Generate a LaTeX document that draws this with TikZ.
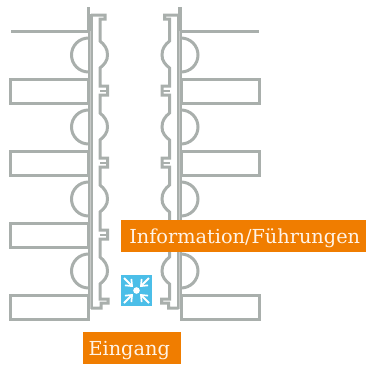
\documentclass[tikz,border=0pt]{standalone}
\usepackage{fontspec}
\setmainfont{DejaVu Serif}
\usetikzlibrary{arrows.meta}
\definecolor{wall}{HTML}{A9AFAC}
\definecolor{lab}{HTML}{F07D00}
\definecolor{ico}{HTML}{4BBEE8}
\definecolor{labtxt}{HTML}{FFF3E6}
\tikzset{
  wallline/.style={draw=wall,line width=3pt,line join=miter},
  sign/.style={fill=lab,text=labtxt,inner sep=0pt,text height=15.5pt,text depth=0pt,font=\fontsize{19.3}{19.3}\selectfont},
  icoarrow/.style={draw=white,line width=1.8pt,-{Straight Barb[length=5.5pt,width=9pt,line width=1.7pt]}}
}
\newcommand{\halfside}{%
  \draw[draw=wall,line width=2.4pt] (88.3,7) -- (88.3,31);
  \draw[draw=wall,line width=5pt] (90.5,31) -- (90.5,309);
  \draw[draw=wall,line width=2.4pt] (91.4,14) -- (91.4,31);
  \draw[draw=white,line width=.5pt,opacity=.35] (90,31) -- (90,309);
  \draw[wallline] (91,15) -- (105,15) -- (105,19) -- (100,19) -- (100,41)
    to[out=-40,in=90] (107.5,55) to[out=-90,in=40] (100,68) -- (100,86) -- (107.5,86) -- (107.5,95) -- (100,95) -- (100,113)
    to[out=-40,in=90] (107.5,127) to[out=-90,in=40] (100,140) -- (100,158) -- (107.5,158) -- (107.5,167) -- (100,167) -- (100,185)
    to[out=-40,in=90] (107.5,199) to[out=-90,in=40] (100,212) -- (100,230) -- (107.5,230) -- (107.5,239) -- (100,239) -- (100,257)
    to[out=-40,in=90] (107.5,271) to[out=-90,in=40] (100,284) -- (100,299) -- (108,299) -- (108,303) -- (101,303) -- (101,308) -- (91,308);
  \foreach \t in {90,162,234}{\draw[wall,line width=2pt] (100,\t+.5) -- (107.5,\t+.5);}
  \foreach \t in {55,127,199,271}{\draw[wallline] (88.5,\t+17) arc[start angle=90,end angle=270,radius=17];}
  \draw[wallline] (11,31) -- (88,31);
  \foreach \t in {79,151,223,295}{\draw[wallline] (88.5,\t) rectangle (10.5,\t+24);}
}
\begin{document}
\begin{tikzpicture}[x=1pt,y=-1pt]
\useasboundingbox (0,0) rectangle (366,364);
\halfside
\begin{scope}[xscale=-1,xshift=-269.5pt]
\halfside
\end{scope}
\draw[draw=wall,line width=4.5pt] (180,7) -- (180,31);
\node[sign,minimum width=245pt,minimum height=32pt,anchor=north west] (info) at (121,220) {\hspace*{2pt}Information/Führungen};
\node[sign,minimum width=98pt,minimum height=32pt,anchor=north west] (eing) at (83,332) {\hspace*{-6pt}Eingang};
\fill[ico] (121,275) rectangle (152,306);
\fill[white] (136.5,290.5) circle (3.3pt);
\draw[icoarrow] (124,278) -- (133,287);
\draw[icoarrow] (149,278) -- (140,287);
\draw[icoarrow] (124,303) -- (133,294);
\draw[icoarrow] (149,303) -- (140,294);
\end{tikzpicture}
\end{document}
